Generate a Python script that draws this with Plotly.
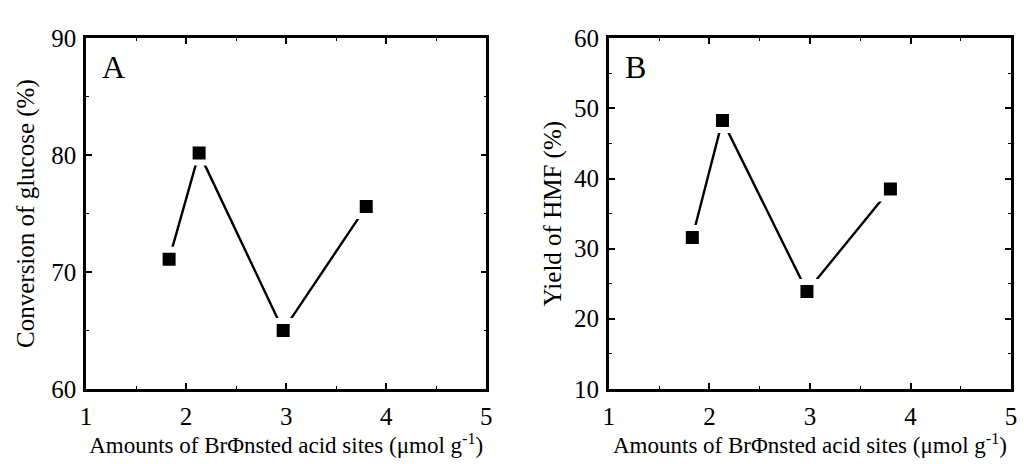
import plotly.graph_objects as go

# Brønsted acid site amounts (µmol g-1) and catalytic results
acid_sites = [1.83, 2.13, 2.97, 3.80]
glucose_conversion = [71.1, 80.2, 65.0, 75.6]
hmf_yield = [31.6, 48.3, 23.9, 38.5]

x_ticks = [1, 2, 3, 4, 5]
conv_ticks = [60, 70, 80, 90]
yield_ticks = [10, 20, 30, 40, 50, 60]

FONT = "Liberation Serif, Times New Roman, serif"
W, H = 1024, 464

fig = go.Figure()

def add_series(x, y, xa, ya):
    fig.add_trace(go.Scatter(
        x=x, y=y, xaxis=xa, yaxis=ya, mode="lines+markers",
        line=dict(color="black", width=2.4),
        marker=dict(symbol="square", size=19, color="black",
                    line=dict(color="white", width=6)),
        showlegend=False, cliponaxis=False,
    ))

add_series(acid_sites, glucose_conversion, "x", "y")
add_series(acid_sites, hmf_yield, "x2", "y2")

def px(v0, v1, total, flip=False):
    if flip:
        return [1 - v1 / total, 1 - v0 / total]
    return [v0 / total, v1 / total]

x_title = "Amounts of BrΦnsted acid sites (μmol g<sup>-1</sup>)"

minor_style = dict(ticks="inside", ticklen=3, tickwidth=1.2, tickcolor="black")

common_x = dict(
    range=[1, 5], tickvals=x_ticks, showline=True, linewidth=2.5, linecolor="black",
    mirror="ticks", ticks="inside", ticklen=6, tickwidth=1.8, tickcolor="black",
    minor=dict(dtick=0.5, **minor_style),
    showgrid=False, zeroline=False, ticklabelstandoff=3,
    tickfont=dict(family=FONT, size=25, color="black"),
    title=dict(text=x_title, font=dict(family=FONT, size=23, color="black"), standoff=2),
)
common_y = dict(
    showline=True, linewidth=2.5, linecolor="black",
    mirror="ticks", ticks="inside", ticklen=6, tickwidth=1.8, tickcolor="black",
    showgrid=False, zeroline=False, ticklabelstandoff=2,
    tickfont=dict(family=FONT, size=25, color="black"),
)

ydom = px(27, 399, H, flip=True)

fig.update_layout(
    width=W, height=H,
    margin=dict(l=0, r=0, t=0, b=0),
    paper_bgcolor="white", plot_bgcolor="white",
    xaxis=dict(domain=px(81, 486, W), anchor="y", **common_x),
    xaxis2=dict(domain=px(610, 1017, W), anchor="y2", **common_x),
    yaxis=dict(domain=ydom, anchor="x", range=[60, 90], tickvals=conv_ticks,
               minor=dict(dtick=5, **minor_style),
               title=dict(text="Conversion of glucose (%)",
                          font=dict(family=FONT, size=25, color="black"), standoff=10),
               **common_y),
    yaxis2=dict(domain=ydom, anchor="x2", range=[10, 60], tickvals=yield_ticks,
                minor=dict(dtick=5, **minor_style),
                title=dict(text="Yield of HMF (%)",
                           font=dict(family=FONT, size=25, color="black"), standoff=6),
                **common_y),
    annotations=[
        dict(text="A", xref="x domain", yref="y domain", x=0.035, y=0.975,
             xanchor="left", yanchor="top", showarrow=False,
             font=dict(family=FONT, size=32, color="black")),
        dict(text="B", xref="x2 domain", yref="y2 domain", x=0.035, y=0.975,
             xanchor="left", yanchor="top", showarrow=False,
             font=dict(family=FONT, size=32, color="black")),
    ],
)

fig.write_html("out.html")
